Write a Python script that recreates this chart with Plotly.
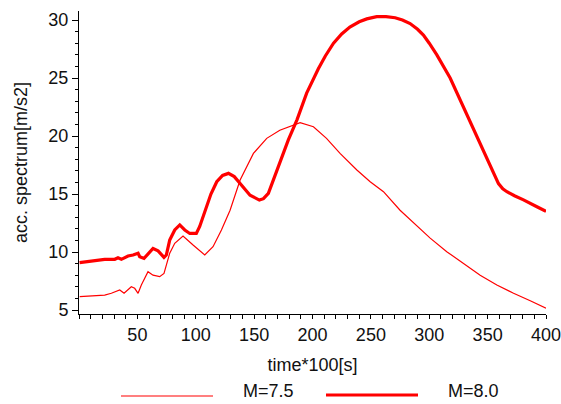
import plotly.graph_objects as go

# ---- data ----
t_m75 = [0.6, 10, 22, 27.7, 34.9, 38.6, 44.8, 47.7, 50.6, 53.4, 59.1, 63.4, 69.1, 72.8,
         77.7, 82, 89.1, 97.7, 107.7, 114.8, 122, 129.4, 138, 149.4, 160.8, 172, 180.8,
         189.4, 200.8, 212, 223.6, 238, 249.4, 260.8, 275, 286.5, 300.8, 315, 329.3,
         343.6, 357.9, 372.2, 386.5, 400]
v_m75 = [6.15, 6.2, 6.29, 6.44, 6.72, 6.44, 7.0, 6.87, 6.44, 7.16, 8.3, 8.0, 7.87, 8.16,
         9.89, 10.75, 11.38, 10.6, 9.74, 10.46, 11.9, 13.6, 16.2, 18.5, 19.8, 20.5, 20.8,
         21.15, 20.8, 19.8, 18.5, 17.07, 16.06, 15.2, 13.6, 12.5, 11.2, 10.03, 9.03,
         8.0, 7.16, 6.44, 5.8, 5.15]

t_m80 = [0.5, 10.5, 22, 30.6, 33.4, 36.3, 42, 46.3, 50.6, 52, 55.7, 63.4, 67.7, 72.8,
         74.8, 77.7, 82, 86.3, 90.6, 94.9, 100.5, 103.4, 109.4, 113, 118, 123, 128, 133,
         138, 146.5, 154.5, 158, 162.2, 166, 170.8, 179.3, 186.7, 195, 205, 211, 218, 225,
         232, 240, 246.5, 255, 263, 270.8, 277, 283.6, 290, 295, 300, 306.5, 317.9, 329.3,
         340.8, 350.7, 359.3, 363, 366.5, 373, 380.7, 392.2, 400]
v_m80 = [9.08, 9.22, 9.37, 9.37, 9.5, 9.37, 9.66, 9.74, 9.89, 9.6, 9.45, 10.3, 10.1, 9.54,
         9.74, 11.03, 11.9, 12.33, 11.9, 11.6, 11.6, 12.2, 13.9, 15.0, 16.06, 16.6, 16.78,
         16.5, 15.9, 14.9, 14.48, 14.6, 15.06, 16.1, 17.35, 19.66, 21.4, 23.7, 25.8, 26.9,
         28.0, 28.8, 29.4, 29.85, 30.1, 30.3, 30.3, 30.2, 30.0, 29.7, 29.2, 28.7, 28.0, 27.0,
         25.0, 22.5, 20.1, 17.8, 15.9, 15.45, 15.2, 14.85, 14.5, 13.9, 13.5]

series_names = ["M=7.5", "M=8.0"]
x_ticks = [50, 100, 150, 200, 250, 300, 350, 400]
y_ticks = [5, 10, 15, 20, 25, 30]

FONT = "Liberation Sans, Arial, sans-serif"
RED = "#ff0000"
TXT = "#111111"
FS = 18

fig = go.Figure()
fig.add_trace(go.Scatter(x=t_m75, y=v_m75, mode="lines", name=series_names[0],
                         line=dict(color=RED, width=1.2), showlegend=False))
fig.add_trace(go.Scatter(x=t_m80, y=v_m80, mode="lines", name=series_names[1],
                         line=dict(color=RED, width=3.2), showlegend=False))

W, H = 561, 404
L, R, T, B = 79, 15, 11, 90
pw, ph = W - L - R, H - T - B


def px(xp):
    return (xp - L) / pw


def py(yp):
    return (H - B - yp) / ph


# custom legend (matching the reference's long sample lines)
fig.add_shape(type="line", xref="paper", yref="paper", x0=px(121), x1=px(213),
              y0=py(396), y1=py(396), line=dict(color=RED, width=1.2))
fig.add_shape(type="line", xref="paper", yref="paper", x0=px(326), x1=px(418),
              y0=py(395), y1=py(395), line=dict(color=RED, width=3.2))
fig.add_annotation(xref="paper", yref="paper", x=px(241), y=py(403), text=series_names[0],
                   showarrow=False, xanchor="left", yanchor="bottom",
                   font=dict(family=FONT, size=FS, color=TXT))
fig.add_annotation(xref="paper", yref="paper", x=px(446), y=py(403), text=series_names[1],
                   showarrow=False, xanchor="left", yanchor="bottom",
                   font=dict(family=FONT, size=FS, color=TXT))

fig.update_layout(
    width=W, height=H,
    margin=dict(l=L, r=R, t=T, b=B, autoexpand=False),
    paper_bgcolor="white", plot_bgcolor="white",
    font=dict(family=FONT, size=FS, color=TXT),
)
fig.update_xaxes(
    range=[0, 400], tickvals=x_ticks, showgrid=False, zeroline=False, automargin=False,
    showline=True, linecolor="#000", linewidth=1, mirror=False,
    ticks="outside", ticklen=4, tickcolor="#000", tickwidth=1,
    minor=dict(dtick=10, tick0=0, ticks="outside", ticklen=4, tickcolor="#000", showgrid=False),
    tickfont=dict(family=FONT, size=FS, color=TXT), ticklabeloverflow="allow",
    title=dict(text="time*100[s]", font=dict(family=FONT, size=FS, color=TXT), standoff=14),
)
fig.update_yaxes(
    range=[4.655, 30.78], tickvals=y_ticks, showgrid=False, zeroline=False, automargin=False,
    showline=True, linecolor="#000", linewidth=1, mirror=False,
    ticks="outside", ticklen=6, tickcolor="#000", tickwidth=1,
    minor=dict(dtick=1, tick0=0, ticks="outside", ticklen=3, tickcolor="#000", showgrid=False),
    tickfont=dict(family=FONT, size=FS, color=TXT),
    title=dict(text="acc. spectrum[m/s2]", font=dict(family=FONT, size=FS, color=TXT), standoff=16),
)

fig.write_html("out.html")
